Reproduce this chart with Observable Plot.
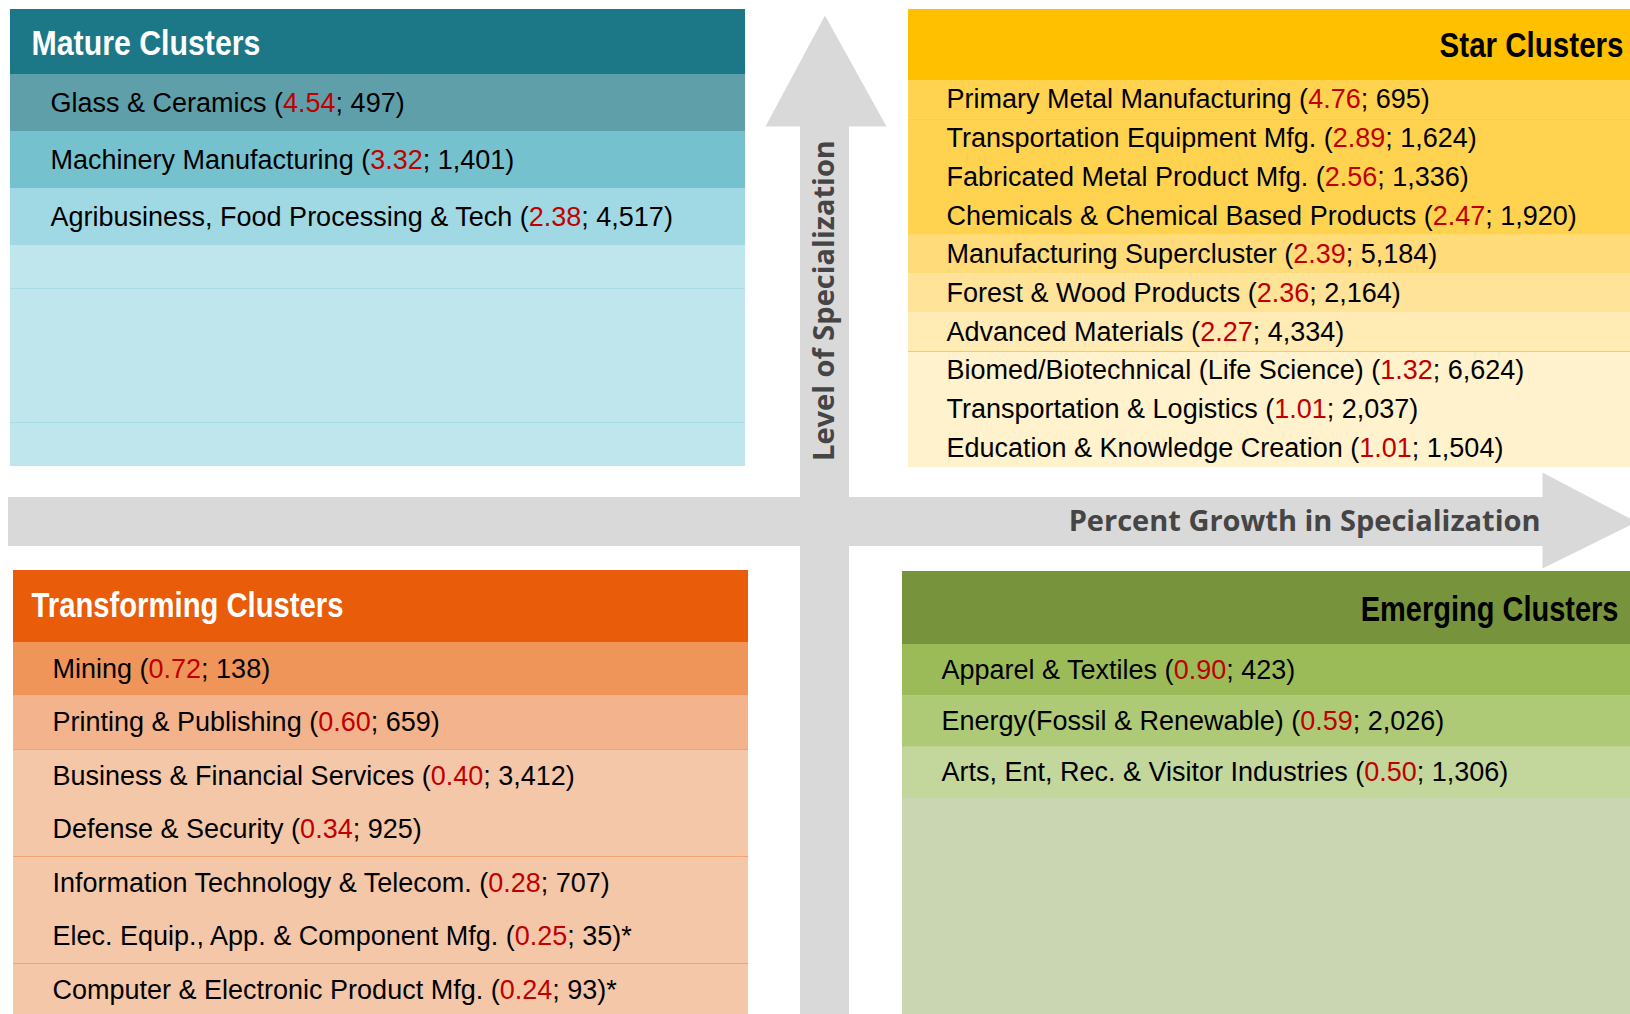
<!DOCTYPE html>
<html><head><meta charset="utf-8">
<script src="https://cdn.jsdelivr.net/npm/d3@7"></script>
<script src="https://cdn.jsdelivr.net/npm/@observablehq/plot@0.6"></script>
<style>html,body{margin:0;padding:0;background:#fff;overflow:hidden} svg{display:block}</style>
</head><body>
<script>
// ---------------- DATA ----------------
const matureNames = ["Glass & Ceramics", "Machinery Manufacturing", "Agribusiness, Food Processing & Tech"];
const matureLQ = [4.54, 3.32, 2.38];
const matureJobs = [497, 1401, 4517];

const starNames = ["Primary Metal Manufacturing", "Transportation Equipment Mfg.", "Fabricated Metal Product Mfg.",
  "Chemicals & Chemical Based Products", "Manufacturing Supercluster", "Forest & Wood Products", "Advanced Materials",
  "Biomed/Biotechnical (Life Science)", "Transportation & Logistics", "Education & Knowledge Creation"];
const starLQ = [4.76, 2.89, 2.56, 2.47, 2.39, 2.36, 2.27, 1.32, 1.01, 1.01];
const starJobs = [695, 1624, 1336, 1920, 5184, 2164, 4334, 6624, 2037, 1504];

const transformingNames = ["Mining", "Printing & Publishing", "Business & Financial Services", "Defense & Security",
  "Information Technology & Telecom.", "Elec. Equip., App. & Component Mfg.", "Computer & Electronic Product Mfg."];
const transformingLQ = [0.72, 0.60, 0.40, 0.34, 0.28, 0.25, 0.24];
const transformingJobs = [138, 659, 3412, 925, 707, 35, 93];
const transformingNotes = ["", "", "", "", "", "*", "*"];

const emergingNames = ["Apparel & Textiles", "Energy(Fossil & Renewable)", "Arts, Ent, Rec. & Visitor Industries"];
const emergingLQ = [0.90, 0.59, 0.50];
const emergingJobs = [423, 2026, 1306];

const quadrantTitles = ["Mature Clusters", "Star Clusters", "Transforming Clusters", "Emerging Clusters"];
const axisTitles = ["Level of Specialization", "Percent Growth in Specialization"];

// ---------------- LAYOUT / STYLE ----------------
const W = 1630, H = 1014;
const RED = "#C00000";
const ROW_FONT = "'Liberation Sans', Arial, sans-serif";
const HEAD_FONT = "'Liberation Sans', Arial, sans-serif";
const AXIS_FONT = "'Open Sans', sans-serif";
const ARROW = "#D9D9D9";

const quadrants = [
  {title: quadrantTitles[0], names: matureNames, lq: matureLQ, jobs: matureJobs, notes: null,
   x1: 10, x2: 745, y1: 9, yh: 74, y2: 466, rowH: 57, textX: 50, headX: 31, headW: 229, headDy: 2, anchor: "start",
   headFill: "#1C7886", headText: "#FFFFFF", filler: "#BEE6EC",
   bands: [[0, 1, "#5F9FAA"], [1, 2, "#76C1CE"], [2, 3, "#A0D9E3"]],
   bandRules: [], extraRules: [288, 422], ruleColor: "#A9DCE6"},
  {title: quadrantTitles[1], names: starNames, lq: starLQ, jobs: starJobs, notes: null,
   x1: 908, x2: W, y1: 9, yh: 80, y2: 467, rowH: 38.7, textX: 946, headX: 1623, headW: 184, headDy: 1, anchor: "end",
   headFill: "#FFC000", headText: "#000000", filler: "#FFF2CC",
   bands: [[0, 1, "#FFD34F"], [1, 4, "#FFD34F"], [4, 5, "#FFDB79"], [5, 6, "#FFE398"], [6, 7, "#FFEBB3"], [7, 10, "#FFF2CC"]],
   bandRules: [1, 7], extraRules: [], ruleColor: "#FFCB3A"},
  {title: quadrantTitles[2], names: transformingNames, lq: transformingLQ, jobs: transformingJobs, notes: transformingNotes,
   x1: 13, x2: 748, y1: 570, yh: 642, y2: H, rowH: 53.5, textX: 52, headX: 31, headW: 312, headDy: -1, anchor: "start",
   headFill: "#E85C0A", headText: "#FFFFFF", filler: "#F5C7A9",
   bands: [[0, 1, "#EF955A"], [1, 2, "#F3B38D"], [2, 8, "#F5C7A9"]],
   bandRules: [2, 4, 6], extraRules: [], ruleColor: "#F3A372"},
  {title: quadrantTitles[3], names: emergingNames, lq: emergingLQ, jobs: emergingJobs, notes: null,
   x1: 902, x2: W, y1: 571, yh: 644, y2: H, rowH: 51.3, textX: 941, headX: 1618, headW: 258, headDy: 2, anchor: "end",
   headFill: "#77933C", headText: "#000000", filler: "#CAD5B1",
   bands: [[0, 1, "#9BBB59"], [1, 2, "#AECA76"], [2, 3, "#C3D69B"]],
   bandRules: [], extraRules: [], ruleColor: "#C0CFA0"}
];

// arrows (layout)
const vArrow = {x1: 800, x2: 849, yBase: 126, yEnd: H, headL: 765, headR: 886, tip: 15};
const hArrow = {y1: 497, y2: 546, xStart: 8, xBase: 1542, headT: 472, headB: 568, tip: 1636};

// ---------------- BUILD TABLES ----------------
const fmtLQ = d3.format(".2f"), fmtJobs = d3.format(",");
const rects = [], rules = [], labels = [], heads = [];
quadrants.forEach(q => {
  const top = i => q.yh + q.rowH * i;
  rects.push({x1: q.x1, x2: q.x2, y1: q.y1, y2: q.yh, fill: q.headFill});
  rects.push({x1: q.x1, x2: q.x2, y1: q.yh, y2: q.y2, fill: q.filler});
  q.bands.forEach(([a, b, c]) => rects.push({x1: q.x1, x2: q.x2, y1: top(a), y2: Math.min(top(b), q.y2), fill: c}));
  q.bandRules.forEach(k => rules.push({x1: q.x1, x2: q.x2, y: top(k), stroke: q.ruleColor}));
  q.extraRules.forEach(y => rules.push({x1: q.x1, x2: q.x2, y, stroke: q.ruleColor}));
  q.names.forEach((name, i) => labels.push({
    x: q.textX, y: top(i) + q.rowH / 2,
    pre: name + " (", num: fmtLQ(q.lq[i]), post: "; " + fmtJobs(q.jobs[i]) + ")" + (q.notes ? q.notes[i] : "")
  }));
  heads.push({x: q.headX, y: (q.y1 + q.yh) / 2 + q.headDy, text: q.title, anchor: q.anchor, fill: q.headText, w: q.headW});
});
labels.forEach(d => d.full = d.pre + d.num + d.post);

const shafts = [
  {x1: vArrow.x1, x2: vArrow.x2, y1: vArrow.yBase - 1, y2: vArrow.yEnd},
  {x1: hArrow.xStart, x2: hArrow.xBase + 1, y1: hArrow.y1, y2: hArrow.y2}
];
const headPts = [
  {id: "v", x: vArrow.headL, y: vArrow.yBase}, {id: "v", x: (vArrow.x1 + vArrow.x2) / 2, y: vArrow.tip}, {id: "v", x: vArrow.headR, y: vArrow.yBase},
  {id: "h", x: hArrow.xBase, y: hArrow.headT}, {id: "h", x: hArrow.tip, y: (hArrow.y1 + hArrow.y2) / 2}, {id: "h", x: hArrow.xBase, y: hArrow.headB}
];
const axisLabels = [
  {x: (vArrow.x1 + vArrow.x2) / 2, y: 300, text: axisTitles[0], anchor: "middle"},
  {x: hArrow.xBase - 2, y: (hArrow.y1 + hArrow.y2) / 2, text: axisTitles[1], anchor: "end"}
];

// ---------------- PLOT ----------------
const chart = Plot.plot({
  width: W, height: H, margin: 0,
  x: {domain: [0, W], range: [0, W], axis: null},
  y: {domain: [0, H], range: [0, H], axis: null},
  color: {type: "identity"},
  style: {background: "#FFFFFF", overflow: "hidden"},
  marks: [
    Plot.rect(shafts, {x1: "x1", x2: "x2", y1: "y1", y2: "y2", fill: ARROW}),
    Plot.line(headPts, {x: "x", y: "y", z: "id", fill: ARROW, stroke: "none"}),
    Plot.text(axisLabels.filter(d => d.anchor === "middle"), {x: "x", y: "y", text: "text", rotate: -90,
      fontFamily: AXIS_FONT, fontWeight: "bold", fontSize: 29, fill: "#454545"}),
    Plot.text(axisLabels.filter(d => d.anchor === "end"), {x: "x", y: "y", text: "text", textAnchor: "end",
      fontFamily: AXIS_FONT, fontWeight: "bold", fontSize: 29, fill: "#454545"}),
    Plot.rect(rects, {x1: "x1", x2: "x2", y1: "y1", y2: "y2", fill: "fill"}),
    Plot.ruleY(rules, {y: "y", x1: "x1", x2: "x2", stroke: "stroke", strokeWidth: 1}),
    Plot.text(heads.filter(d => d.anchor === "start"), {x: "x", y: "y", text: "text", fill: "fill", textAnchor: "start",
      fontFamily: HEAD_FONT, fontWeight: "bold", fontSize: 35}),
    Plot.text(heads.filter(d => d.anchor === "end"), {x: "x", y: "y", text: "text", fill: "fill", textAnchor: "end",
      fontFamily: HEAD_FONT, fontWeight: "bold", fontSize: 35}),
    Plot.text(labels, {x: "x", y: "y", text: "full", textAnchor: "start",
      fontFamily: ROW_FONT, fontSize: 27, fill: "#000000"})
  ]
});
document.body.appendChild(chart);

// post-process text: red LQ numbers and condensed headings
const xs = chart.scale("x");
const byText = new Map(labels.map(d => [d.full, d]));
const headByText = new Map(heads.map(d => [d.text, d]));
d3.select(chart).selectAll("text").each(function () {
  const content = this.textContent;
  const t = d3.select(this);
  if (byText.has(content)) {
    const d = byText.get(content);
    t.text(null);
    t.append("tspan").text(d.pre);
    t.append("tspan").attr("fill", RED).text(d.num);
    t.append("tspan").text(d.post);
  } else if (headByText.has(content)) {
    const h = headByText.get(content);
    const len = this.getComputedTextLength();
    const s = len > 0 ? h.w / len : 1;
    const ax = xs.apply(h.x);
    const g = document.createElementNS("http://www.w3.org/2000/svg", "g");
    g.setAttribute("transform", `translate(${ax},0) scale(${s},1) translate(${-ax},0)`);
    this.parentNode.insertBefore(g, this);
    g.appendChild(this);
  }
});
</script>
</body></html>
